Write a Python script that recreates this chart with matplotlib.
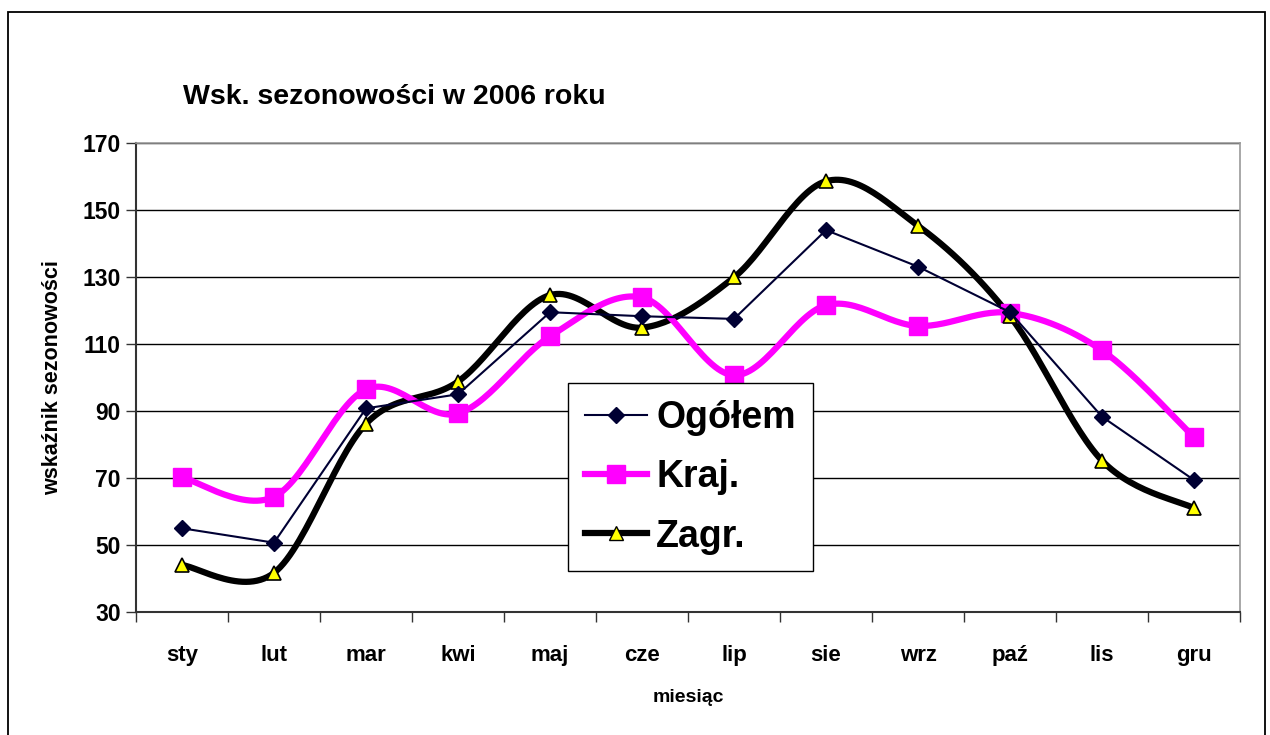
import matplotlib
matplotlib.use('Agg')
import matplotlib.pyplot as plt
from matplotlib.patches import Rectangle
from matplotlib.lines import Line2D
import numpy as np

plt.rcParams['font.family'] = ['Liberation Sans', 'DejaVu Sans']
plt.rcParams['font.weight'] = 'bold'

miesiace = ['sty', 'lut', 'mar', 'kwi', 'maj', 'cze', 'lip', 'sie', 'wrz', 'paź', 'lis', 'gru']
ogolem = [55, 50.7, 90.8, 95, 119.5, 118.3, 117.5, 144, 133.1, 119.5, 88.3, 69.4]
kraj = [70.2, 64.4, 96.5, 89.3, 112.3, 123.9, 100.7, 121.6, 115.4, 119.3, 108.1, 82.2]
zagr = [44, 41.7, 86.2, 98.8, 124.6, 114.9, 129.9, 158.6, 145.3, 118.3, 75.2, 61]


def wygladz(x, y, n=30):
    # krzywa jak w Excelu (Bezier, styczne Catmull-Rom)
    x = np.asarray(x, float)
    y = np.asarray(y, float)
    px, py = [], []
    for i in range(len(x) - 1):
        x0, y0 = (x[i - 1], y[i - 1]) if i > 0 else (x[i], y[i])
        x3, y3 = (x[i + 2], y[i + 2]) if i + 2 < len(x) else (x[i + 1], y[i + 1])
        c1x = x[i] + (x[i + 1] - x0) / 6
        c1y = y[i] + (y[i + 1] - y0) / 6
        c2x = x[i + 1] - (x3 - x[i]) / 6
        c2y = y[i + 1] - (y3 - y[i]) / 6
        t = np.linspace(0, 1, n)
        px.extend((1 - t) ** 3 * x[i] + 3 * (1 - t) ** 2 * t * c1x + 3 * (1 - t) * t ** 2 * c2x + t ** 3 * x[i + 1])
        py.extend((1 - t) ** 3 * y[i] + 3 * (1 - t) ** 2 * t * c1y + 3 * (1 - t) * t ** 2 * c2y + t ** 3 * y[i + 1])
    return px, py


fig = plt.figure(figsize=(12.7, 7.35), dpi=100)
ax = fig.add_axes([0.1071, 0.1673, 0.8693, 0.6381])

# ramka wykresu
fig.patches.append(Rectangle((8 / 1270, -0.02), 1257 / 1270, 1.0037, transform=fig.transFigure,
                             fill=False, edgecolor='black', linewidth=1.3))

xs = np.arange(len(miesiace))

# Zagr.
sx, sy = wygladz(xs, zagr)
ax.plot(sx, sy, color='black', linewidth=4.5, solid_capstyle='round', zorder=3)
ax.plot(xs, zagr, linestyle='none', marker='^', markersize=10, markerfacecolor='#FFFF00',
        markeredgecolor='black', markeredgewidth=1.2, zorder=6)

# Kraj.
sx, sy = wygladz(xs, kraj)
ax.plot(sx, sy, color='#FF00FF', linewidth=4.5, solid_capstyle='round', zorder=4)
ax.plot(xs, kraj, linestyle='none', marker='s', markersize=13, color='#FF00FF', zorder=5)

# Ogółem
ax.plot(xs, ogolem, color='#000033', linewidth=1.5, marker='D', markersize=8, zorder=7)

# legenda
h1 = Line2D([], [], color='#000033', linewidth=1.5, marker='D', markersize=8)
h2 = Line2D([], [], color='#FF00FF', linewidth=4.5, marker='s', markersize=13)
h3 = Line2D([], [], color='black', linewidth=4.5, marker='^', markersize=10,
            markerfacecolor='#FFFF00', markeredgecolor='black')
leg = ax.legend([h1, h2, h3], ['Ogółem', 'Kraj.', 'Zagr.'], loc='upper left',
                bbox_to_anchor=(0.3915, 0.488), fancybox=False, framealpha=1,
                edgecolor='black', prop={'size': 27, 'weight': 'bold'},
                handlelength=1.65, handletextpad=0.25, labelspacing=0.62,
                borderpad=0.45, borderaxespad=0)
leg.get_frame().set_linewidth(1.0)
leg.set_zorder(10)

ax.set_xlim(-0.5, 11.5)
ax.set_ylim(30, 170)
ax.set_yticks(range(30, 171, 20))
ax.set_xticks(xs)
ax.set_xticklabels(miesiace)
ax.set_xticks(np.arange(-0.5, 12, 1), minor=True)
ax.tick_params(axis='x', which='major', length=0, pad=24, labelsize=16)
ax.tick_params(axis='x', which='minor', length=7, width=1, color='#333333')
ax.tick_params(axis='y', length=7, width=1, pad=4, labelsize=16.5, color='#333333')
for lab in ax.get_xticklabels() + ax.get_yticklabels():
    lab.set_fontweight('bold')

ax.grid(axis='y', color='black', linewidth=1)
ax.set_axisbelow(True)
for s in ['top', 'right']:
    ax.spines[s].set_color('#999999')
    ax.spines[s].set_linewidth(1.2)
for s in ['left', 'bottom']:
    ax.spines[s].set_color('#333333')
    ax.spines[s].set_linewidth(1.5)

ax.set_xlabel('miesiąc', fontsize=14, fontweight='bold', labelpad=16)
ax.set_ylabel('wskaźnik sezonowości', fontsize=15.5, fontweight='bold', labelpad=14)

fig.text(183 / 1270, 1 - 97 / 735, 'Wsk. sezonowości w 2006 roku', fontsize=20.5,
         fontweight='bold', ha='left', va='center')

fig.savefig('out.png', dpi=100)
